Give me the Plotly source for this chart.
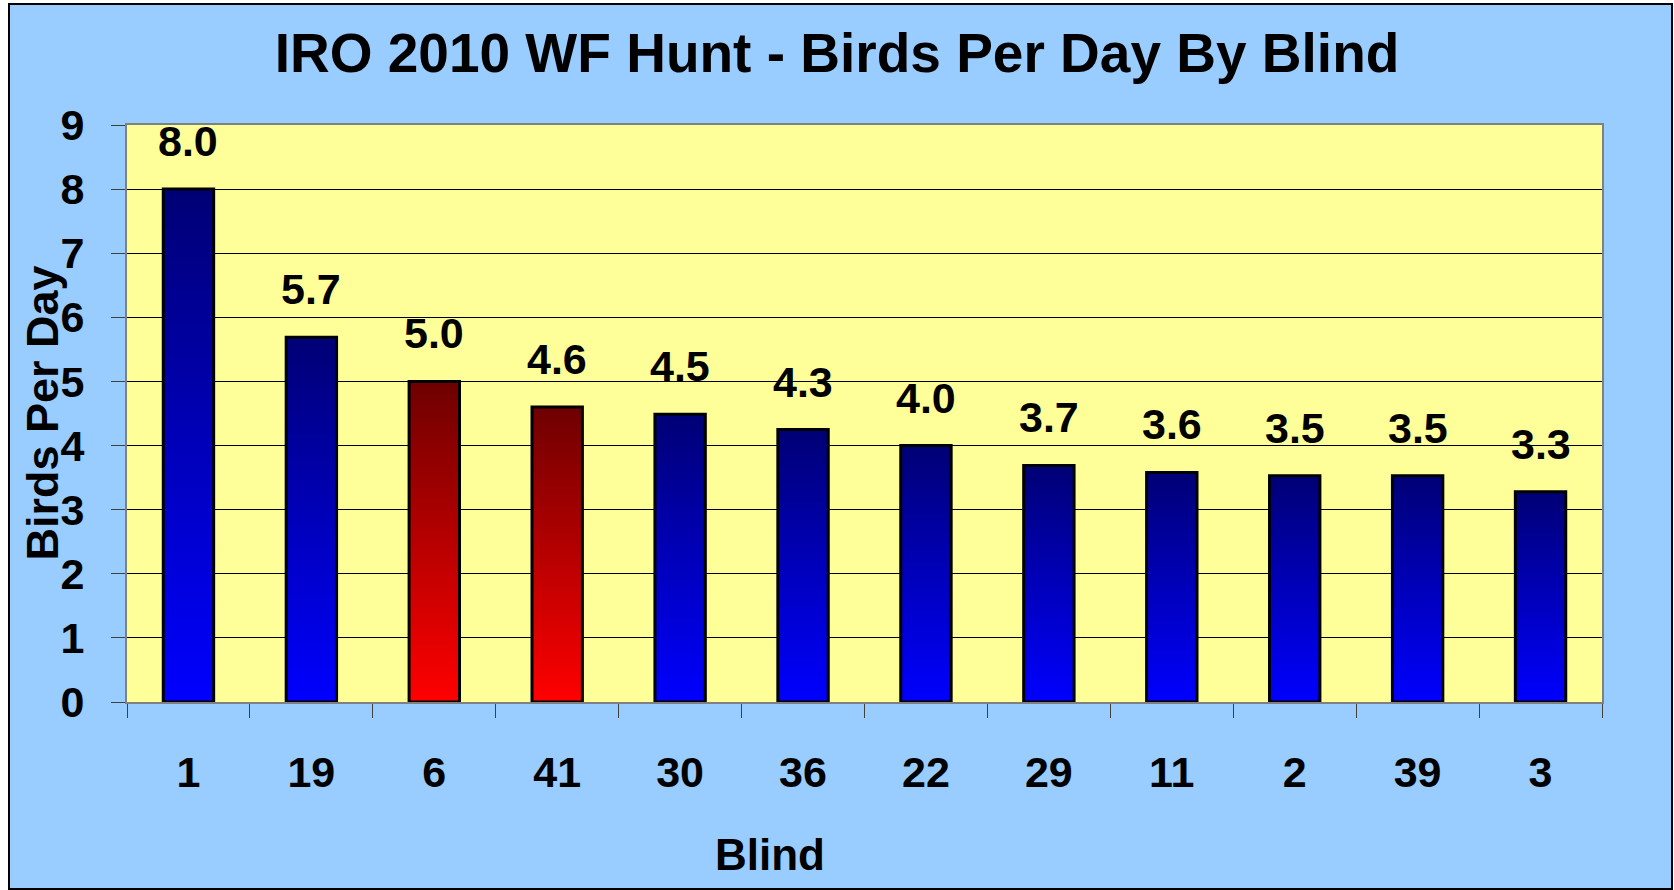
import plotly.graph_objects as go
from decimal import Decimal, ROUND_HALF_UP

# ---- data ----
blinds = ["1", "19", "6", "41", "30", "36", "22", "29", "11", "2", "39", "3"]
birds_per_day = [8.0, 5.69, 5.0, 4.6, 4.49, 4.25, 4.0, 3.69, 3.58, 3.53, 3.53, 3.28]
highlight = [False, False, True, True, False, False, False, False, False, False, False, False]

title_text = "IRO 2010 WF Hunt - Birds Per Day By Blind"
x_title = "Blind"
y_title = "Birds Per Day"

# ---- style ----
FONT = "Liberation Sans, Arial, sans-serif"
BLUE_SCALE = [[0, "#0000FF"], [1, "#000075"]]
RED_SCALE = [[0, "#FF0000"], [1, "#6E0000"]]
BAR_HALF = 0.205

L, R, T, B = 127, 72, 125, 188
W, H = 1674, 890
PW, PH = W - L - R, H - T - B


def fmt(v):
    return str(Decimal(str(v)).quantize(Decimal("0.1"), rounding=ROUND_HALF_UP))


fig = go.Figure()

for i, (v, hl) in enumerate(zip(birds_per_day, highlight)):
    xs = [i - BAR_HALF, i - BAR_HALF, i + BAR_HALF, i + BAR_HALF, i - BAR_HALF]
    ys = [0, v, v, 0, 0]
    fig.add_trace(go.Scatter(
        x=xs, y=ys, mode="lines", fill="toself",
        fillgradient=dict(type="vertical", colorscale=RED_SCALE if hl else BLUE_SCALE),
        line=dict(color="black", width=3),
        hoverinfo="skip", showlegend=False,
    ))

# value labels
for i, v in enumerate(birds_per_day):
    fig.add_annotation(
        x=i, y=v, text=fmt(v), showarrow=False, yanchor="bottom", yshift=22,
        font=dict(family=FONT, size=43, color="black", weight="bold"),
    )

# axis titles
fig.add_annotation(
    x=(770 - L) / PW, y=(H - B - 854) / PH, xref="paper", yref="paper",
    text=x_title, showarrow=False, xanchor="center", yanchor="middle",
    font=dict(family=FONT, size=44, color="black", weight="bold"),
)
fig.add_annotation(
    x=(42 - L) / PW, y=0.5, xref="paper", yref="paper", textangle=-90,
    text=y_title, showarrow=False, xanchor="center", yanchor="middle",
    font=dict(family=FONT, size=45, color="black", weight="bold"),
)

# chart-area background with border, then plot-area background
fig.add_shape(
    type="rect", xref="paper", yref="paper", layer="below",
    x0=(9 - L) / PW, x1=(1672 - L) / PW, y0=(H - B - 889) / PH, y1=(H - B - 4) / PH,
    fillcolor="#99CCFF", line=dict(color="black", width=2),
)
fig.add_shape(
    type="rect", xref="paper", yref="paper", layer="below",
    x0=0, x1=1, y0=0, y1=1,
    fillcolor="#FFFF99", line=dict(width=0),
)

fig.update_layout(
    width=W, height=H,
    margin=dict(l=L, r=R, t=T, b=B),
    paper_bgcolor="white",
    plot_bgcolor="rgba(0,0,0,0)",
    title=dict(
        text=title_text, x=0.5, xref="container", xanchor="center",
        y=1 - 53 / H, yref="container", yanchor="middle",
        font=dict(family=FONT, size=55, color="black", weight="bold"),
    ),
    xaxis=dict(
        range=[-0.5, len(blinds) - 0.5],
        tickmode="array", tickvals=list(range(len(blinds))), ticktext=blinds,
        ticks="", showgrid=False, zeroline=False,
        showline=True, linecolor="#808080", linewidth=2, mirror=True,
        tickfont=dict(family=FONT, size=43, color="black", weight="bold"),
        ticklabelstandoff=31,
        minor=dict(
            tickmode="array",
            tickvals=[k - 0.5 for k in range(len(blinds) + 1)],
            ticks="outside", ticklen=14, tickcolor="#404040", tickwidth=1,
            showgrid=False,
        ),
        fixedrange=True,
    ),
    yaxis=dict(
        range=[0, 9], dtick=1, tick0=0,
        ticks="outside", ticklen=14, tickcolor="#404040", tickwidth=1,
        showgrid=True, gridcolor="black", gridwidth=1, zeroline=False,
        showline=True, linecolor="#808080", linewidth=2, mirror=True,
        tickfont=dict(family=FONT, size=43, color="black", weight="bold"),
        ticklabelstandoff=18,
        fixedrange=True,
    ),
)

fig.write_html(
    "out.html",
    config={"displayModeBar": False},
    post_script="document.body.style.margin='0';document.body.style.overflow='hidden';",
)
